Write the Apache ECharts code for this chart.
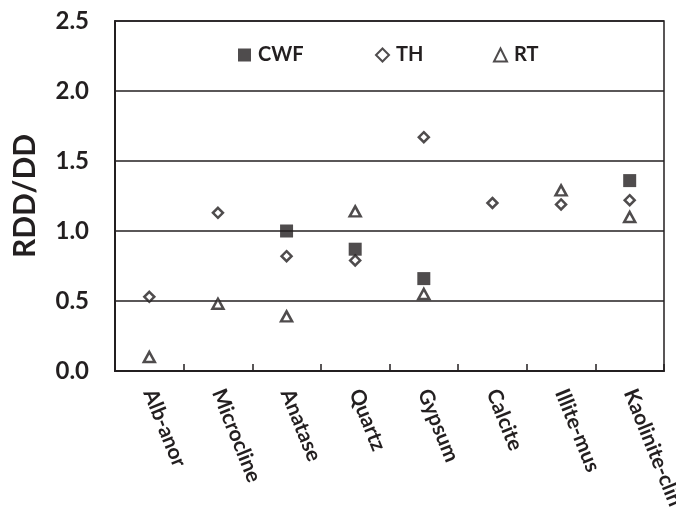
<!DOCTYPE html>
<html>
<head>
<meta charset="utf-8">
<script src="https://cdn.jsdelivr.net/npm/echarts@6/dist/echarts.min.js"></script>
<style>html,body{margin:0;padding:0;background:#fff}#c{width:676px;height:508px}</style>
</head>
<body>
<div id="c"></div>
<script>
var categories = ['Alb-anor','Microcline','Anatase','Quartz','Gypsum','Calcite','Illite-mus','Kaolinite-clin'];
var cwf = [null, null, 1.00, 0.87, 0.66, null, null, 1.36];
var th  = [0.53, 1.13, 0.82, 0.79, 1.67, 1.20, 1.19, 1.22];
var rt  = [0.10, 0.48, 0.39, 1.14, 0.55, null, 1.29, 1.10];
var yTicks = [0, 0.5, 1.0, 1.5, 2.0, 2.5];

var INK = '#231f20';
var FONT = 'Lato';
var chart = echarts.init(document.getElementById('c'), null, {renderer:'canvas'});

function legendAt(name, left){
  return {
    data:[name], left:left, top:40, itemWidth:13, itemHeight:13,
    textStyle:{fontFamily:FONT, fontWeight:'bold', fontSize:20, color:INK, padding:[0,0,0,2]}
  };
}

chart.setOption({
  animation:false,
  textStyle:{fontFamily:FONT},
  grid:{left:115, right:12, top:21, bottom:137, containLabel:false, outerBoundsMode:'none',
        show:true, borderColor:INK, borderWidth:1.5},
  legend:[legendAt('CWF',233), legendAt('TH',370), legendAt('RT',488)],
  xAxis:{
    type:'category', data:categories, boundaryGap:true,
    axisLine:{show:true, lineStyle:{color:INK, width:2}},
    axisTick:{show:true, inside:true, length:7, lineStyle:{color:INK, width:1.5}},
    axisLabel:{rotate:-68, margin:19, fontFamily:FONT, fontWeight:'bold', fontSize:21, color:INK, interval:0},
    splitLine:{show:false}
  },
  yAxis:{
    type:'value', min:yTicks[0], max:yTicks[yTicks.length-1], interval:0.5,
    name:'RDD/DD', nameLocation:'middle', nameGap:75,
    nameTextStyle:{fontFamily:FONT, fontWeight:'bold', fontSize:30, color:INK},
    axisLine:{show:true, lineStyle:{color:INK, width:2}},
    axisTick:{show:false},
    axisLabel:{margin:26, fontFamily:FONT, fontWeight:'bold', fontSize:24, color:INK,
      formatter:function(v){return v.toFixed(1);}},
    splitLine:{show:true, lineStyle:{color:INK, width:1.5}}
  },
  series:[
    {name:'CWF', type:'scatter', data:cwf, symbol:'rect', symbolSize:13,
     itemStyle:{color:INK, borderColor:INK, borderWidth:0}, z:3},
    {name:'TH', type:'scatter', data:th, symbol:'diamond', symbolSize:[10,10],
     itemStyle:{color:'#fff', borderColor:INK, borderWidth:2.5}, z:4},
    {name:'RT', type:'scatter', data:rt, symbol:'triangle', symbolSize:[11,10],
     itemStyle:{color:'#fff', borderColor:INK, borderWidth:2.5}, z:4}
  ]
});
</script>
</body>
</html>
